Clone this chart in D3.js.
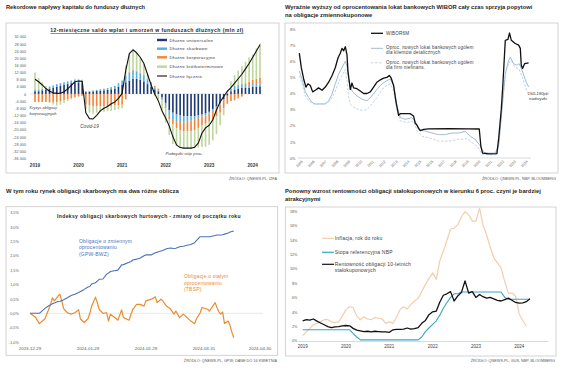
<!DOCTYPE html>
<html>
<head>
<meta charset="utf-8">
<script src="https://cdn.jsdelivr.net/npm/d3@7"></script>
<style>
  body { margin: 0; background: #fff; }
  svg { display: block; font-family: "Liberation Sans", Arial, sans-serif; }
</style>
</head>
<body>
<script>
// ---------- panel 1: 12-month net flows into debt funds (mln zł), Jan 2019 - Mar 2024
const p1Months = d3.timeMonths(new Date(2019, 0, 1), new Date(2024, 3, 1));
const dluzneUniwersalne = [
  1500, 1500, 2000, 2500, 3000, 3500, 4000, 4500, 5000, 5500, 6000, 6500,
  6500, 6000, 1000, 1200, 1400, 1600, 1800, 2000, 2300, 2600, 3000, 4000,
  5000, 6500, 7500, 8500, 8500, 8000, 7000, 5500, 4000, 2500, 1500, -2000,
  -5000, -9000, -10500, -11500, -12000, -12500, -12500, -12500, -12500, -12000, -11500, -11000,
  -10000, -8500, -7000, -5000, -3000, -1000, 1500, 2500, 3000, 3500, 3500, 3500,
  4000, 4000, 4200
];
const dluzneSkarbowe = [
  1000, 1000, 1000, 1000, 1200, 1200, 1500, 1500, 1500, 1500, 1500, 1500,
  1500, 1500, 500, 500, 600, 700, 800, 900, 1000, 1200, 1500, 2000,
  2500, 3500, 4500, 4500, 4000, 3500, 3000, 2500, 1500, 1000, 500, -1000,
  -2000, -3000, -3500, -3700, -3700, -3500, -3000, -2500, -2000, -1500, -1200, -1000,
  -1000, -1000, -1000, -1000, -500, 500, 1500, 2000, 2000, 2000, 1500, 1500,
  1500, 1500, 1500
];
const dluzneKorporacyjne = [
  -4500, -4500, -4500, -4500, -4500, -4500, -4500, -4000, -3500, -3000, -2500, -2000,
  -1500, -1000, -6000, -6500, -7000, -7000, -7000, -7000, -7000, -7000, -6500, -6500,
  -6000, -3000, 500, 500, 500, 500, 500, 500, 1000, 1000, 1000, -500,
  -1000, -2000, -3000, -4000, -4700, -5000, -5500, -6000, -6000, -5500, -5000, -4500,
  -4500, -4500, -4500, -4500, -4500, -4500, -4000, -3500, -2500, -1500, 1000, 2000,
  2500, 3000, 3500
];
const dluzneKrotkoterminowe = [
  9500, 6500, 3500, 1000, -500, -1500, -2000, -2000, -1500, -1000, -500, 500,
  500, 500, -2500, -4000, -4000, -3500, -3000, -3000, -2500, -2500, -2500, -2000,
  -2000, 6000, 10000, 11000, 10000, 8000, 6000, 2500, 0, -1000, -3000, -6000,
  -8000, -9000, -11000, -10000, -9500, -9500, -9500, -9500, -10000, -11000, -12000, -13000,
  -13000, -12000, -10000, -7000, -4000, 1000, 4000, 6000, 8000, 10000, 12000, 13500,
  14000, 17000, 19000
];
const dluzneLacznie = [
  8200, 6800, 5000, 3000, 1500, 600, 300, 400, 1200, 2800, 4800, 6800,
  7200, 7000, -10500, -13800, -14000, -12000, -9500, -8000, -7000, -5500, -4500, -2500,
  300, 13000, 22500, 24700, 23000, 20500, 17000, 11000, 5000, 0, -4000, -9500,
  -13500, -18000, -24000, -28500, -30000, -30300, -30300, -30300, -29800, -27500, -22000, -19000,
  -17500, -14500, -9000, -4500, -1500, 1500, 3500, 6000, 8500, 11000, 14000, 17000,
  20500, 24000, 27500
];
const p1Ticks = d3.range(-36000, 32001, 4000);

// ---------- panel 2: WIBOR 6M vs new deposit rates (%), [year, value]
const wibor6m = [
  [2005.00, 6.5], [2005.17, 5.6], [2005.37, 4.9], [2005.56, 4.4], [2005.73, 4.6], [2005.93, 4.5],
  [2006.13, 4.1], [2006.35, 4.2], [2006.63, 4.35], [2006.92, 4.2], [2007.20, 4.4], [2007.48, 4.7],
  [2007.76, 5.1], [2008.04, 5.6], [2008.27, 6.2], [2008.46, 6.5], [2008.61, 6.8], [2008.75, 6.65],
  [2008.89, 6.9], [2009.03, 6.4], [2009.11, 5.4], [2009.23, 4.7], [2009.31, 4.25], [2009.45, 4.65],
  [2009.59, 4.35], [2009.87, 4.3], [2010.15, 4.15], [2010.44, 4.0], [2010.72, 4.0], [2011.00, 4.1],
  [2011.28, 4.4], [2011.56, 4.7], [2011.85, 4.85], [2012.13, 4.95], [2012.41, 5.0], [2012.61, 5.12],
  [2012.77, 4.95], [2012.97, 4.5], [2013.17, 3.5], [2013.39, 2.65], [2013.54, 2.75], [2013.96, 2.75],
  [2014.38, 2.75], [2014.66, 2.6], [2014.80, 2.15], [2014.94, 2.05], [2015.08, 1.85], [2015.23, 1.7],
  [2015.51, 1.78], [2015.93, 1.8], [2017.62, 1.82], [2019.31, 1.8], [2020.21, 1.8], [2020.35, 0.7],
  [2020.49, 0.3], [2021.00, 0.25], [2021.70, 0.27], [2021.85, 1.2], [2022.07, 3.0], [2022.21, 4.6],
  [2022.41, 7.3], [2022.63, 7.35], [2022.77, 7.75], [2022.92, 7.3], [2023.25, 7.1], [2023.54, 7.0],
  [2023.68, 6.8], [2023.76, 5.75], [2023.87, 5.55], [2024.04, 5.85], [2024.38, 5.9]
];
const lokatyDetaliczne = [
  [2005.00, 5.4], [2005.23, 4.9], [2005.51, 4.1], [2005.79, 3.75], [2006.07, 3.45], [2006.35, 3.35],
  [2007.20, 3.35], [2007.48, 3.55], [2007.76, 3.95], [2008.04, 4.6], [2008.32, 5.2], [2008.61, 5.6],
  [2008.89, 6.0], [2009.03, 5.7], [2009.17, 4.9], [2009.31, 4.4], [2009.51, 4.1], [2009.87, 3.85],
  [2010.30, 3.65], [2010.72, 3.55], [2011.14, 3.85], [2011.56, 4.25], [2011.99, 4.6], [2012.41, 4.8],
  [2012.69, 4.9], [2012.97, 4.5], [2013.25, 3.25], [2013.54, 2.5], [2013.96, 2.4], [2014.52, 2.5],
  [2014.80, 2.3], [2015.08, 1.75], [2015.65, 1.67], [2016.21, 1.55], [2016.77, 1.45], [2017.34, 1.45],
  [2017.90, 1.55], [2018.46, 1.55], [2019.03, 1.65], [2019.45, 1.35], [2019.87, 1.15], [2020.30, 0.75],
  [2020.58, 0.35], [2021.00, 0.3], [2021.56, 0.3], [2021.85, 0.75], [2022.13, 3.0], [2022.41, 5.2],
  [2022.69, 6.05], [2022.83, 6.25], [2023.11, 5.85], [2023.39, 5.75], [2023.59, 5.85], [2023.82, 5.45],
  [2024.10, 4.85], [2024.38, 4.4]
];
const lokatyFirmy = [
  [2005.00, 5.1], [2005.23, 4.6], [2005.51, 3.85], [2005.79, 3.55], [2006.21, 3.35], [2006.92, 3.35],
  [2007.48, 3.45], [2007.76, 3.75], [2008.04, 4.15], [2008.32, 4.7], [2008.61, 5.1], [2008.89, 5.5],
  [2009.03, 4.8], [2009.17, 3.75], [2009.31, 3.35], [2009.59, 3.15], [2010.01, 3.0], [2010.44, 2.95],
  [2010.72, 3.0], [2011.14, 3.35], [2011.56, 3.75], [2011.99, 4.25], [2012.41, 4.5], [2012.69, 4.6],
  [2012.97, 4.15], [2013.25, 3.0], [2013.54, 2.3], [2014.10, 2.2], [2014.66, 2.3], [2014.94, 1.7],
  [2015.37, 1.35], [2015.93, 1.25], [2016.77, 1.05], [2017.62, 1.05], [2018.46, 1.15], [2019.17, 1.2],
  [2019.59, 0.95], [2020.01, 0.75], [2020.44, 0.25], [2021.00, 0.2], [2021.70, 0.2], [2021.90, 1.15],
  [2022.18, 3.6], [2022.46, 5.45], [2022.75, 5.95], [2022.92, 6.05], [2023.20, 5.65], [2023.54, 5.55],
  [2023.82, 5.05], [2024.10, 4.45], [2024.32, 4.0]
];
const p2Years = d3.range(2005, 2025);
const p2Ticks = d3.range(0, 9);

// ---------- panel 3: treasury bond indices, change since start of year (%)
const p3Dates = [
  '2023-12-29', '2024-01-01', '2024-01-03', '2024-01-06', '2024-01-08', '2024-01-09', '2024-01-10',
  '2024-01-11', '2024-01-13', '2024-01-14', '2024-01-15', '2024-01-16', '2024-01-18', '2024-01-20',
  '2024-01-22', '2024-01-24', '2024-01-25', '2024-01-27', '2024-01-29', '2024-01-30', '2024-01-31',
  '2024-02-02', '2024-02-03', '2024-02-04', '2024-02-06', '2024-02-08', '2024-02-09', '2024-02-10',
  '2024-02-12', '2024-02-14', '2024-02-16', '2024-02-17', '2024-02-20', '2024-02-21', '2024-02-22',
  '2024-02-24', '2024-02-26', '2024-02-28', '2024-02-29', '2024-03-03', '2024-03-05', '2024-03-06',
  '2024-03-08', '2024-03-09', '2024-03-11', '2024-03-13', '2024-03-15', '2024-03-16', '2024-03-18',
  '2024-03-20', '2024-03-22', '2024-03-24', '2024-03-26', '2024-03-27', '2024-03-29', '2024-03-30',
  '2024-04-02', '2024-04-03', '2024-04-06', '2024-04-07', '2024-04-08', '2024-04-09', '2024-04-10',
  '2024-04-11', '2024-04-13', '2024-04-14', '2024-04-15', '2024-04-16'
];
const gpwBwz = [
  0.00, 0.00, 0.00, 0.17, 0.26, 0.30, 0.33, 0.36, 0.41, 0.42, 0.44, 0.47, 0.54, 0.62,
  0.66, 0.72, 0.76, 0.83, 0.91, 0.93, 1.02, 1.06, 1.12, 1.18, 1.19, 1.36, 1.40, 1.45,
  1.48, 1.50, 1.68, 1.69, 1.77, 1.80, 1.85, 1.88, 1.92, 2.00, 2.03, 2.03, 2.10, 2.12,
  2.16, 2.18, 2.24, 2.27, 2.25, 2.26, 2.31, 2.33, 2.36, 2.39, 2.45, 2.52, 2.66, 2.66,
  2.66, 2.66, 2.70, 2.72, 2.72, 2.72, 2.73, 2.75, 2.79, 2.82, 2.84, 2.86
];
const tbsp = [
  0.00, -0.14, -0.36, -0.19, 0.14, 0.31, 0.54, 0.43, 0.60, 0.66, 0.43, 0.16, 0.02, -0.03,
  0.02, 0.12, -0.20, -0.32, -0.19, 0.00, 0.25, 0.56, 0.37, 0.14, 0.00, 0.02, -0.27, -0.03,
  -0.13, -0.24, 0.12, -0.15, -0.24, -0.03, 0.14, 0.31, 0.31, 0.25, 0.43, 0.49, 0.57, 0.37,
  0.49, 0.43, 0.25, 0.16, -0.03, 0.08, -0.15, -0.03, -0.15, -0.27, -0.36, -0.20, 0.02, 0.20,
  0.14, 0.08, 0.37, 0.20, 0.05, -0.03, 0.05, -0.35, -0.27, -0.42, -0.67, -0.85
];
const p3TickDates = ['2023-12-29', '2024-01-29', '2024-02-29', '2024-03-31', '2024-04-30'];
const p3Ticks = d3.range(-1, 3.51, 0.5);

// ---------- panel 4: inflation, NBP rate, 10Y yield (%), monthly from Jan 2019
const p4Months = d3.timeMonths(new Date(2019, 0, 1), new Date(2024, 4, 1));
const inflacja = [
  0.7, 1.2, 1.7, 2.2, 2.4, 2.6, 2.9, 2.9, 2.6, 2.5, 2.6, 3.4,
  4.3, 4.7, 4.6, 3.4, 2.9, 3.3, 3.0, 2.9, 3.2, 3.1, 3.0, 2.4,
  2.6, 2.4, 3.2, 4.3, 4.7, 4.4, 5.0, 5.5, 5.9, 6.8, 7.8, 8.6,
  9.4, 8.5, 11.0, 12.4, 13.9, 15.5, 15.6, 16.1, 17.2, 17.9, 17.5, 16.6,
  16.6, 18.4, 16.1, 14.7, 13.0, 11.5, 10.8, 10.1, 8.2, 6.6, 6.6, 6.2,
  3.7, 2.8, 2.0
];
const stopaNbp = [
  1.5, 1.5, 1.5, 1.5, 1.5, 1.5, 1.5, 1.5, 1.5, 1.5, 1.5, 1.5,
  1.5, 1.5, 1.0, 0.5, 0.1, 0.1, 0.1, 0.1, 0.1, 0.1, 0.1, 0.1,
  0.1, 0.1, 0.1, 0.1, 0.1, 0.1, 0.1, 0.1, 0.1, 0.5, 1.25, 1.75,
  2.25, 2.75, 3.5, 4.5, 5.25, 6.0, 6.5, 6.5, 6.75, 6.75, 6.75, 6.75,
  6.75, 6.75, 6.75, 6.75, 6.75, 6.75, 6.75, 6.75, 6.0, 5.75, 5.75, 5.75,
  5.75, 5.75, 5.75, 5.75
];
const rentownosc10y = [
  2.75, 2.9, 2.85, 3.0, 2.7, 2.45, 2.2, 1.95, 1.8, 1.9, 1.95, 2.05,
  2.1, 2.05, 1.7, 1.45, 1.35, 1.25, 1.3, 1.2, 1.3, 1.25, 1.2, 1.2,
  1.15, 1.5, 1.55, 1.55, 1.6, 1.75, 1.6, 1.65, 1.8, 2.4, 2.8, 3.6,
  4.0, 4.1, 5.3, 6.3, 6.5, 6.8, 5.5, 6.2, 6.7, 8.3, 6.6, 6.8,
  6.0, 6.4, 6.1, 5.9, 6.0, 5.8, 5.6, 5.5, 5.7, 5.9, 5.6, 5.3,
  5.2, 5.25, 5.4, 5.8
];
const p4Ticks = d3.range(0, 19, 2);
const p4Years = [2019, 2020, 2021, 2022, 2023, 2024];

// ---------- helpers
const pl = d3.formatLocale({ decimal: ',', thousands: '\u00a0', grouping: [3], currency: ['', ''], minus: '-' });
const parseDay = d3.timeParse('%Y-%m-%d');

const svg = d3.select('body').append('svg')
  .attr('width', 564)
  .attr('height', 373);

svg.append('rect').attr('width', 564).attr('height', 373).attr('fill', '#fff');

function txt(g, x, y, s, o = {}) {
  return g.append('text')
    .attr('x', x)
    .attr('y', y)
    .style('font-size', (o.size || 4) + 'px')
    .style('font-weight', o.bold ? 'bold' : 'normal')
    .style('font-style', o.italic ? 'italic' : 'normal')
    .style('text-anchor', o.anchor || 'start')
    .style('letter-spacing', (o.ls || 0) + 'px')
    .style('fill', o.fill || '#404040')
    .text(s);
}

function frame(g, x, y, w, h) {
  g.append('rect')
    .attr('x', x).attr('y', y).attr('width', w).attr('height', h)
    .attr('fill', 'none')
    .attr('stroke', '#c8c8c8')
    .attr('stroke-width', 0.8);
}

function yLabels(g, scale, ticks, xRight, fmt) {
  g.append('g')
    .attr('transform', `translate(${xRight},0)`)
    .call(d3.axisLeft(scale).tickValues(ticks).tickSize(0).tickPadding(0).tickFormat(fmt))
    .call(a => a.select('.domain').remove())
    .selectAll('text')
    .style('font-family', '"Liberation Sans", Arial, sans-serif')
    .style('font-size', '3.8px')
    .style('fill', '#595959');
}

const titleColor = '#1e1e1e';
const sourceColor = '#595959';

// ================= PANEL 1 =================
const p1 = svg.append('g');
txt(p1, 6, 9, 'Rekordowe napływy kapitału do funduszy dłużnych', { size: 5.7, bold: true, fill: titleColor });
frame(p1, 6, 23, 273, 150);
txt(p1, 277, 179.5, 'ŹRÓDŁO: QNEWS.PL, IZFA', { size: 3.8, anchor: 'end', fill: sourceColor });

const x1 = d3.scaleBand()
  .domain(d3.range(p1Months.length))
  .range([34.2, 260.8])
  .paddingInner(0.55);
const y1 = d3.scaleLinear()
  .domain([-36000, 32000])
  .range([158.3, 36.7]);

txt(p1, 147, 32, '12-miesięczne saldo wpłat i umorzeń w funduszach dłużnych (mln zł)',
  { size: 5.1, bold: true, anchor: 'middle', fill: '#262626', ls: 0.4 })
  .style('text-decoration', 'underline');

yLabels(p1, y1, p1Ticks, 26, d => pl.format(',.0f')(d));

p1.append('line')
  .attr('x1', 30).attr('x2', 263)
  .attr('y1', y1(0)).attr('y2', y1(0))
  .attr('stroke', '#d9d9d9').attr('stroke-width', 0.6);

const p1Keys = ['uni', 'skarb', 'korp', 'krot'];
const p1Colors = { uni: '#1f3a73', skarb: '#56aee2', korp: '#f0873a', krot: '#bfd69c' };
const p1Rows = p1Months.map((m, i) => ({
  i,
  uni: dluzneUniwersalne[i],
  skarb: dluzneSkarbowe[i],
  korp: dluzneKorporacyjne[i],
  krot: dluzneKrotkoterminowe[i]
}));
const p1Stack = d3.stack().keys(p1Keys).offset(d3.stackOffsetDiverging)(p1Rows);

p1.append('g').selectAll('g')
  .data(p1Stack)
  .enter().append('g')
  .attr('fill', s => p1Colors[s.key])
  .selectAll('rect')
  .data(s => s)
  .enter().append('rect')
  .attr('x', d => x1(d.data.i))
  .attr('width', x1.bandwidth())
  .attr('y', d => y1(Math.max(d[0], d[1])))
  .attr('height', d => Math.abs(y1(d[0]) - y1(d[1])));

p1.append('path')
  .datum(dluzneLacznie)
  .attr('fill', 'none')
  .attr('stroke', '#111')
  .attr('stroke-width', 1.1)
  .attr('stroke-linejoin', 'round')
  .attr('d', d3.line().x((d, i) => x1(i) + x1.bandwidth() / 2).y(d => y1(d)));

p1Months.forEach((m, i) => {
  if (m.getMonth() === 0) {
    txt(p1, x1(i) + x1.bandwidth() / 2, 166.8, m.getFullYear(), { size: 4.7, bold: true, anchor: 'middle', fill: '#404040' });
  }
});

const p1Legend = [
  ['Dłużne uniwersalne', p1Colors.uni],
  ['Dłużne skarbowe', p1Colors.skarb],
  ['Dłużne korporacyjne', p1Colors.korp],
  ['Dłużne krótkoterminowe', p1Colors.krot],
  ['Dłużne łącznie', '#111']
];
const p1LegY = [40, 48.7, 57.3, 66.7, 76];
p1Legend.forEach((l, i) => {
  if (i < 4) {
    p1.append('rect').attr('x', 157).attr('y', p1LegY[i] - 1.2).attr('width', 10).attr('height', 2.4).attr('fill', l[1]);
  } else {
    p1.append('line').attr('x1', 157).attr('x2', 167).attr('y1', p1LegY[i]).attr('y2', p1LegY[i])
      .attr('stroke', l[1]).attr('stroke-width', 1.1);
  }
  txt(p1, 169.5, p1LegY[i] + 1.5, l[0], { size: 4.4, ls: 0.3 });
});

txt(p1, 29.5, 109.4, 'Kryzys obligacji', { size: 4, italic: true });
txt(p1, 29.5, 114.8, 'korporacyjnych', { size: 4, italic: true });
txt(p1, 89.5, 128.2, 'Covid-19', { size: 4.6, italic: true, anchor: 'middle' });
txt(p1, 184, 154.8, 'Podwyżki stóp proc.', { size: 4.2, italic: true, anchor: 'middle' });

// ================= PANEL 2 =================
const p2 = svg.append('g');
txt(p2, 285, 9, 'Wyraźnie wyższy od oprocentowania lokat bankowych WIBOR cały czas sprzyja popytowi',
  { size: 5.8, bold: true, fill: titleColor });
txt(p2, 285, 17, 'na obligacje zmiennokuponowe', { size: 5.8, bold: true, fill: titleColor });
frame(p2, 285, 23, 273, 150);
txt(p2, 556, 179.5, 'ŹRÓDŁO: QNEWS.PL, NBP, BLOOMBERG', { size: 3.8, anchor: 'end', fill: sourceColor });

const x2 = d3.scaleLinear().domain([2005, 2024]).range([299.3, 524.1]);
const y2 = d3.scaleLinear().domain([0, 8]).range([158, 29]);

yLabels(p2, y2, p2Ticks, 295.5, d => d + '%');

p2.append('line')
  .attr('x1', 298).attr('x2', 531)
  .attr('y1', y2(0)).attr('y2', y2(0))
  .attr('stroke', '#bfbfbf').attr('stroke-width', 0.6);

p2Years.forEach(yr => {
  p2.append('text')
    .attr('transform', `translate(${x2(yr) + 3},${161}) rotate(-45)`)
    .attr('dy', '0.35em')
    .style('text-anchor', 'end')
    .style('font-size', '3.6px')
    .style('fill', '#595959')
    .text(yr);
});

const line2 = d3.line().x(d => x2(d[0])).y(d => y2(d[1]));
p2.append('path').datum(lokatyFirmy)
  .attr('fill', 'none').attr('stroke', '#c3d5e8').attr('stroke-width', 1)
  .attr('stroke-dasharray', '2.5,1.5').attr('d', line2);
p2.append('path').datum(lokatyDetaliczne)
  .attr('fill', 'none').attr('stroke', '#a3bcd6').attr('stroke-width', 1).attr('d', line2);
p2.append('path').datum(wibor6m)
  .attr('fill', 'none').attr('stroke', '#111').attr('stroke-width', 1.3)
  .attr('stroke-linejoin', 'round').attr('d', line2);

p2.append('line').attr('x1', 371).attr('x2', 383).attr('y1', 33.3).attr('y2', 33.3)
  .attr('stroke', '#111').attr('stroke-width', 1.3);
txt(p2, 386, 35, 'WIBOR6M', { size: 4.6, ls: 0.2 });
p2.append('line').attr('x1', 371).attr('x2', 383).attr('y1', 48.3).attr('y2', 48.3)
  .attr('stroke', '#a3bcd6').attr('stroke-width', 1);
txt(p2, 386, 49.3, 'Oproc. nowych lokat bankowych ogółem', { size: 4.5, ls: 0.2 });
txt(p2, 386, 54.4, 'dla klientów detalicznych', { size: 4.5, ls: 0.2 });
p2.append('line').attr('x1', 371).attr('x2', 383).attr('y1', 62.8).attr('y2', 62.8)
  .attr('stroke', '#c3d5e8').attr('stroke-width', 1).attr('stroke-dasharray', '2.5,1.5');
txt(p2, 386, 63.9, 'Oproc. nowych lokat bankowych ogółem', { size: 4.5, ls: 0.2 });
txt(p2, 386, 69, 'dla firm niefinans.', { size: 4.5, ls: 0.2 });

txt(p2, 538, 94.5, '150-180pb', { size: 4.4, italic: true, anchor: 'middle' });
txt(p2, 538, 100.3, 'nadwyżki', { size: 4.4, italic: true, anchor: 'middle' });

// ================= PANEL 3 =================
const p3 = svg.append('g');
txt(p3, 6, 193, 'W tym roku rynek obligacji skarbowych ma dwa różne oblicza', { size: 5.9, bold: true, fill: titleColor });
frame(p3, 6, 206.7, 271.7, 148.6);
txt(p3, 277, 361.5, 'ŹRÓDŁO: QNEWS.PL, GPW; DANE DO 16 KWIETNIA', { size: 3.8, anchor: 'end', fill: sourceColor });

const x3 = d3.scaleTime().domain([parseDay('2023-12-29'), parseDay('2024-04-30')]).range([30, 260]);
const y3 = d3.scaleLinear().domain([-1, 3.5]).range([342.1, 212.5]);

txt(p3, 149, 217.5, 'Indeksy obligacji skarbowych hurtowych - zmiany od początku roku',
  { size: 5, bold: true, anchor: 'middle', fill: '#262626', ls: 0.35 });

yLabels(p3, y3, p3Ticks, 18.8, d => pl.format('.1f')(d) + '%');

p3.append('line')
  .attr('x1', 30).attr('x2', 263)
  .attr('y1', y3(0)).attr('y2', y3(0))
  .attr('stroke', '#d9d9d9').attr('stroke-width', 0.6);

p3TickDates.forEach(s => {
  txt(p3, x3(parseDay(s)), 350, s, { size: 4.4, anchor: 'middle', fill: '#595959' });
});

const p3Parsed = p3Dates.map(parseDay);
const line3 = d3.line().x((d, i) => x3(p3Parsed[i])).y(d => y3(d));
p3.append('path').datum(tbsp)
  .attr('fill', 'none').attr('stroke', '#ee8a2e').attr('stroke-width', 1.2)
  .attr('stroke-linejoin', 'round').attr('d', line3);
p3.append('path').datum(gpwBwz)
  .attr('fill', 'none').attr('stroke', '#4a72b8').attr('stroke-width', 1.1)
  .attr('stroke-linejoin', 'round').attr('d', line3);

txt(p3, 79, 242.5, 'Obligacje o zmiennym', { size: 5, ls: 0.2, fill: '#4a72b8' });
txt(p3, 79, 249, 'oprocentowaniu', { size: 5, ls: 0.2, fill: '#4a72b8' });
txt(p3, 79, 255.5, '(GPW-BWZ)', { size: 5, ls: 0.2, fill: '#4a72b8' });
txt(p3, 184, 278.2, 'Obligacje o stałym', { size: 5, ls: 0.2, fill: '#ee8a2e' });
txt(p3, 184, 284.7, 'oprocentowaniu', { size: 5, ls: 0.2, fill: '#ee8a2e' });
txt(p3, 184, 291.2, '(TBSP)', { size: 5, ls: 0.2, fill: '#ee8a2e' });

// ================= PANEL 4 =================
const p4 = svg.append('g');
txt(p4, 285, 193, 'Ponowny wzrost rentowności obligacji stałokuponowych w kierunku 6 proc. czyni je bardziej',
  { size: 5.8, bold: true, fill: titleColor });
txt(p4, 285, 201.3, 'atrakcyjnymi', { size: 5.8, bold: true, fill: titleColor });
frame(p4, 285.3, 207, 270.7, 149);
txt(p4, 555, 361.5, 'ŹRÓDŁO: QNEWS.PL, GUS, NBP, BLOOMBERG', { size: 3.8, anchor: 'end', fill: sourceColor });

const x4 = d3.scaleTime().domain([new Date(2019, 0, 1), new Date(2024, 0, 1)]).range([302.7, 519.2]);
const y4 = d3.scaleLinear().domain([0, 18]).range([340.6, 211]);

yLabels(p4, y4, p4Ticks, 297.5, d => d + '%');

p4.append('line')
  .attr('x1', 298.7).attr('x2', 548.7)
  .attr('y1', 341.5).attr('y2', 341.5)
  .attr('stroke', '#bfbfbf').attr('stroke-width', 0.6);

p4Years.forEach(yr => {
  txt(p4, x4(new Date(yr, 0, 1)), 348.2, yr, { size: 4.5, anchor: 'middle', fill: '#404040' });
});

const line4 = d3.line().x((d, i) => x4(p4Months[i])).y(d => y4(d));
p4.append('path').datum(inflacja)
  .attr('fill', 'none').attr('stroke', '#f4cdaa').attr('stroke-width', 1.2)
  .attr('stroke-linejoin', 'round').attr('d', line4);
p4.append('path').datum(stopaNbp)
  .attr('fill', 'none').attr('stroke', '#3aa6c4').attr('stroke-width', 1.1)
  .attr('stroke-linejoin', 'round').attr('d', line4);
p4.append('path').datum(rentownosc10y)
  .attr('fill', 'none').attr('stroke', '#111').attr('stroke-width', 1.3)
  .attr('stroke-linejoin', 'round').attr('d', line4);

const p4Legend = [
  ['#f4cdaa', 238.3, ['Inflacja, rok do roku']],
  ['#3aa6c4', 252.3, ['Stopa referencyjna NBP']],
  ['#111', 264.3, ['Rentowność obligacji 10-letnich', 'stałokuponowych']]
];
p4Legend.forEach(l => {
  p4.append('line').attr('x1', 322).attr('x2', 334).attr('y1', l[1]).attr('y2', l[1])
    .attr('stroke', l[0]).attr('stroke-width', 1.2);
  l[2].forEach((s, k) => txt(p4, 334.7, l[1] + 1.7 + k * 6.4, s, { size: 5, ls: 0.2 }));
});
</script>
</body>
</html>
